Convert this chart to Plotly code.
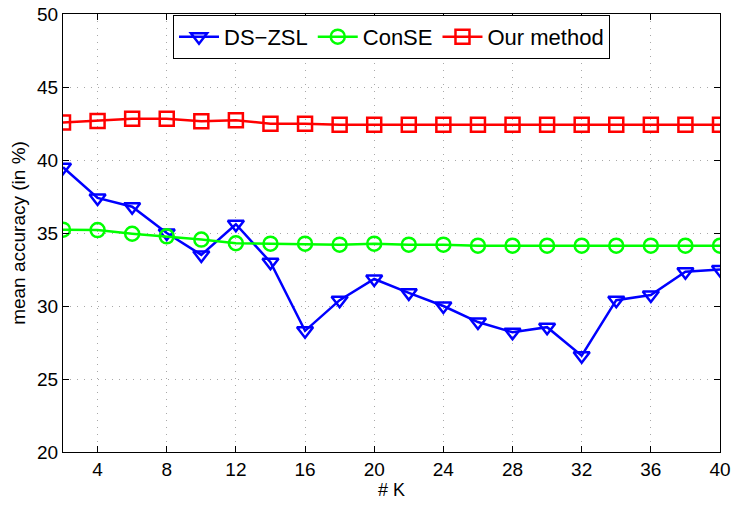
import plotly.graph_objects as go

k_values = [2, 4, 6, 8, 10, 12, 14, 16, 18, 20, 22, 24, 26, 28, 30, 32, 34, 36, 38, 40]
ds_zsl = [39.5, 37.4, 36.8, 35.0, 33.5, 35.6, 33.0, 28.3, 30.4, 31.85, 30.9, 30.0, 28.9, 28.2, 28.55, 26.6, 30.4, 30.75, 32.35, 32.5]
conse = [35.23, 35.2, 34.95, 34.77, 34.55, 34.3, 34.27, 34.27, 34.2, 34.27, 34.2, 34.2, 34.13, 34.13, 34.13, 34.13, 34.13, 34.13, 34.13, 34.13]
our_method = [42.56, 42.67, 42.83, 42.83, 42.65, 42.72, 42.49, 42.49, 42.42, 42.42, 42.42, 42.42, 42.42, 42.42, 42.42, 42.42, 42.42, 42.42, 42.42, 42.42]
x_ticks = [4, 8, 12, 16, 20, 24, 28, 32, 36, 40]
y_ticks = [20, 25, 30, 35, 40, 45, 50]

font_main = "Liberation Sans, Arial, sans-serif"

fig = go.Figure()
series = [
    ("DS\u2212ZSL", ds_zsl, "#0000FF", "triangle-down-open"),
    ("ConSE", conse, "#00FF00", "circle-open"),
    ("Our method", our_method, "#FF0000", "square-open"),
]
for name, vals, col, sym in series:
    fig.add_trace(go.Scatter(
        x=k_values, y=vals, name=name, mode="lines+markers",
        line=dict(color=col, width=2.5),
        marker=dict(symbol=sym, size=14, color=col, line=dict(color=col, width=2.5)),
    ))

axis_common = dict(
    showline=True, linecolor="black", linewidth=1.2, mirror="ticks",
    ticks="inside", ticklen=6, tickcolor="black",
    showgrid=True, gridcolor="#a8a8a8", griddash="1px,6px", gridwidth=1,
    zeroline=False, automargin=False, ticklabeloverflow="allow",
    tickfont=dict(family=font_main, size=19, color="black"),
)

fig.update_xaxes(range=[2, 40], tickvals=x_ticks,
                 title=dict(text="# K", font=dict(family=font_main, size=18, color="black"), standoff=2),
                 **axis_common)
fig.update_yaxes(range=[20, 50], tickvals=y_ticks,
                 title=dict(text="mean accuracy (in %)", font=dict(family=font_main, size=19, color="black"), standoff=6),
                 **axis_common)

fig.update_layout(
    width=747, height=511,
    margin=dict(l=63, r=27, t=14, b=59),
    plot_bgcolor="white", paper_bgcolor="white",
    legend=dict(orientation="h", x=0.5, xanchor="center", y=0.998, yanchor="top",
                bgcolor="white", bordercolor="black", borderwidth=1,
                font=dict(family=font_main, size=22, color="black"),
                itemwidth=40, tracegroupgap=0),
)

fig.write_html("out.html", config={"displayModeBar": False},
               post_script="document.body.style.margin='0';")
